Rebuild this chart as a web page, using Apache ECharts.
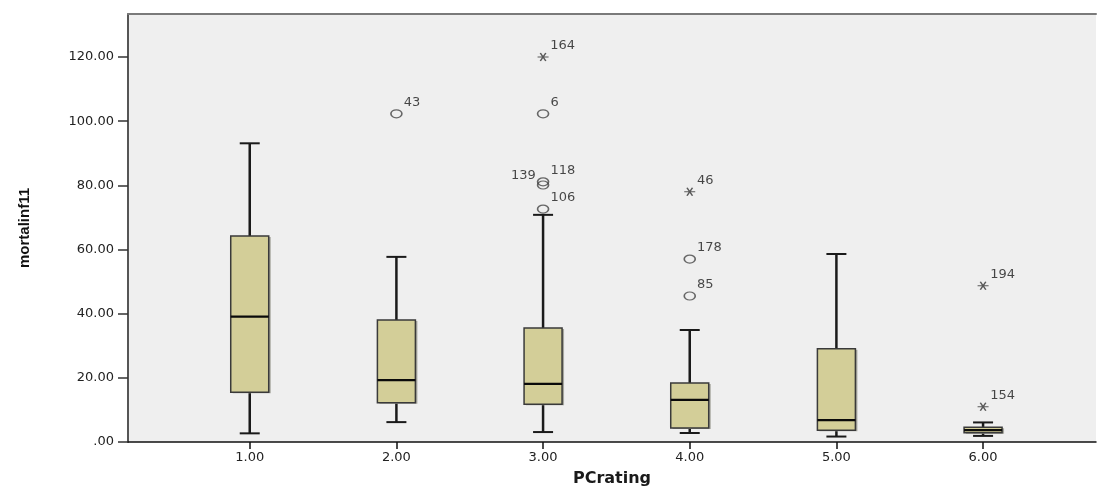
<!DOCTYPE html>
<html>
<head>
<meta charset="utf-8">
<script src="https://cdn.jsdelivr.net/npm/echarts@6/dist/echarts.min.js"></script>
<style>
html,body{margin:0;padding:0;background:#fff;}
#chart{width:1097px;height:489px;}
</style>
</head>
<body>
<div id="chart"></div>
<script>
// ---- data ----
const pcRating = [1, 2, 3, 4, 5, 6];
const xTickLabels = ['1.00', '2.00', '3.00', '4.00', '5.00', '6.00'];
const yTicks = [0, 20, 40, 60, 80, 100, 120];
const whiskerLow = [2.7, 6.2, 3.1, 2.8, 1.7, 1.9];
const q1 = [15.5, 12.2, 11.8, 4.4, 3.7, 2.9];
const median = [39.1, 19.3, 18.1, 13.1, 6.8, 3.7];
const q3 = [64.2, 38.0, 35.5, 18.4, 29.1, 4.6];
const whiskerHigh = [93.1, 57.7, 70.8, 34.9, 58.6, 6.1];

const outlierRating = [2, 3, 3, 3, 3, 3, 4, 4, 4, 6, 6];
const outlierValue = [102.3, 120.0, 102.3, 81.1, 80.1, 72.6, 78.0, 57.0, 45.5, 48.7, 11.0];
const outlierCase = ['43', '164', '6', '118', '139', '106', '46', '178', '85', '194', '154'];
const outlierType = ['o', '*', 'o', 'o', 'o', 'o', '*', 'o', 'o', '*', '*'];

// ---- build ----
const boxData = pcRating.map((x, i) => [x, whiskerLow[i], q1[i], median[i], q3[i], whiskerHigh[i]]);

const labelFont = { fontFamily: 'DejaVu Sans, Liberation Sans, sans-serif', fontSize: 13, color: '#1a1a1a' };

function outlierItems(kind) {
  const out = [];
  outlierRating.forEach((x, i) => {
    if (outlierType[i] !== kind) return;
    const left = outlierCase[i] === '139';
    out.push({
      value: [x, outlierValue[i]],
      name: outlierCase[i],
      label: left
        ? { position: 'left', distance: 1, offset: [0, -9] }
        : { position: 'right', distance: 1, offset: [0, -11] }
    });
  });
  return out;
}

const asterisk = 'path://M-5,0 L5,0 M-2.5,-4.33 L2.5,4.33 M2.5,-4.33 L-2.5,4.33';

const chart = echarts.init(document.getElementById('chart'), null, { renderer: 'canvas' });

chart.setOption({
  animation: false,
  backgroundColor: '#ffffff',
  grid: {
    left: 128, right: 1, top: 14, bottom: 47,
    outerBoundsMode: 'none',
    containLabel: false,
    show: true, backgroundColor: '#efefef', borderWidth: 0
  },
  xAxis: [{
    type: 'value',
    min: 0.17, max: 6.77,
    name: 'PCrating',
    nameLocation: 'middle',
    nameGap: 29,
    nameTextStyle: { fontFamily: 'DejaVu Sans, sans-serif', fontWeight: 'bold', fontSize: 16, color: '#1a1a1a' },
    splitLine: { show: false },
    axisLine: { show: true, onZero: false, lineStyle: { color: '#111', width: 1.5 } },
    axisTick: { show: true, length: 7, customValues: pcRating, lineStyle: { color: '#111', width: 1.5 } },
    axisLabel: {
      customValues: pcRating,
      margin: 9,
      fontFamily: 'DejaVu Sans, sans-serif', fontSize: 13, color: '#222',
      formatter: v => xTickLabels[pcRating.indexOf(Math.round(v))] || ''
    }
  }, {
    type: 'value',
    position: 'top',
    min: 0.17, max: 6.77,
    splitLine: { show: false },
    axisLine: { show: true, onZero: false, lineStyle: { color: '#7a7a7a', width: 2 } },
    axisTick: { show: false },
    axisLabel: { show: false }
  }],
  yAxis: {
    type: 'value',
    min: 0, max: 133.4,
    name: 'mortalinf11',
    nameLocation: 'middle',
    nameGap: 96,
    nameRotate: 90,
    nameTextStyle: { fontFamily: 'Liberation Sans, Arial, sans-serif', fontWeight: 'bold', fontSize: 15, color: '#111' },
    splitLine: { show: false },
    axisLine: { show: true, lineStyle: { color: '#555', width: 2 } },
    axisTick: { show: true, length: 10, customValues: yTicks, lineStyle: { color: '#333', width: 1.5 } },
    axisLabel: {
      customValues: yTicks,
      margin: 14,
      fontFamily: 'DejaVu Sans, sans-serif', fontSize: 13, color: '#222',
      formatter: v => v === 0 ? '.00' : v.toFixed(2)
    }
  },
  series: [{
    type: 'custom',
    name: 'box',
    data: boxData,
    encode: { x: 0, y: [1, 2, 3, 4, 5] },
    renderItem: function (params, api) {
      const x = api.value(0);
      const lo = api.coord([x, api.value(1)]);
      const b1 = api.coord([x, api.value(2)]);
      const md = api.coord([x, api.value(3)]);
      const b3 = api.coord([x, api.value(4)]);
      const hi = api.coord([x, api.value(5)]);
      const cx = lo[0];
      const hw = 19, cap = 10;
      const wStyle = { stroke: '#1a1a1a', lineWidth: 2.5 };
      return {
        type: 'group',
        children: [
          { type: 'line', shape: { x1: cx, y1: hi[1], x2: cx, y2: b3[1] }, style: wStyle },
          { type: 'line', shape: { x1: cx, y1: b1[1], x2: cx, y2: lo[1] }, style: wStyle },
          { type: 'line', shape: { x1: cx - cap, y1: hi[1], x2: cx + cap, y2: hi[1] }, style: { stroke: '#1a1a1a', lineWidth: 2 } },
          { type: 'line', shape: { x1: cx - cap, y1: lo[1], x2: cx + cap, y2: lo[1] }, style: { stroke: '#1a1a1a', lineWidth: 2 } },
          { type: 'rect', shape: { x: cx - hw + 2, y: b3[1] + 1, width: hw * 2, height: b1[1] - b3[1] }, style: { fill: '#a8a8a0' } },
          { type: 'rect', shape: { x: cx - hw, y: b3[1], width: hw * 2, height: b1[1] - b3[1] }, style: { fill: '#d3ce98', stroke: '#3a3a3a', lineWidth: 1.5 } },
          { type: 'line', shape: { x1: cx - hw, y1: md[1], x2: cx + hw, y2: md[1] }, style: { stroke: '#0a0a0a', lineWidth: 2.2 } }
        ]
      };
    }
  }, {
    type: 'scatter',
    name: 'outliers',
    data: outlierItems('o'),
    symbol: 'circle',
    symbolSize: [11, 8],
    itemStyle: { color: 'transparent', borderColor: '#444', borderWidth: 1.4 },
    label: Object.assign({ show: true, formatter: p => p.name }, labelFont)
  }, {
    type: 'scatter',
    name: 'extremes',
    data: outlierItems('*'),
    symbol: asterisk,
    symbolKeepAspect: false,
    symbolSize: [11, 8],
    itemStyle: { color: 'transparent', borderColor: '#333', borderWidth: 1.3 },
    label: Object.assign({ show: true, formatter: p => p.name }, labelFont)
  }]
});
</script>
</body>
</html>
